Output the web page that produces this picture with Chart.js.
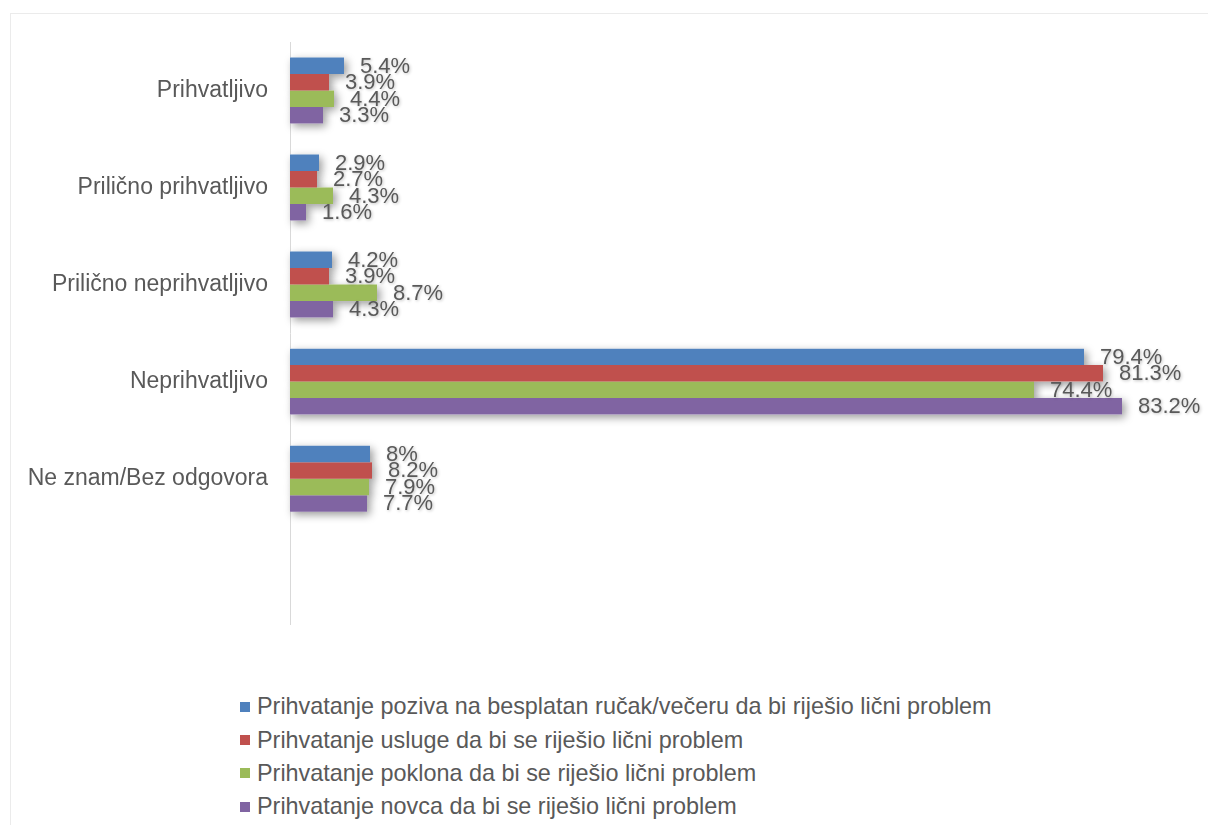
<!DOCTYPE html>
<html>
<head>
<meta charset="utf-8">
<script src="https://cdn.jsdelivr.net/npm/chart.js@4/dist/chart.umd.min.js"></script>
<style>
    body { margin: 0; background: #fff; font-family: 'Liberation Sans', Arial, sans-serif; }
    #frame { position: absolute; left: 10px; top: 13px; width: 1300px; height: 900px; border: 1px solid #ebebeb; }
    #chart { position: absolute; left: 0; top: 0; }
    #legend { position: absolute; left: 240px; top: 690px; }
    .item { display: flex; align-items: center; height: 33.4px; font-size: 23.4px; color: #595959; }
    .box { width: 10px; height: 10px; margin-right: 7px; }
</style>
</head>
<body>
<div id="frame"></div>
<canvas id="chart" width="1208" height="660"></canvas>
<div id="legend"></div>
<script>
// kategorije (zadnja je prazna, kao u originalu)
const categories = ['Prihvatljivo', 'Prilično prihvatljivo', 'Prilično neprihvatljivo', 'Neprihvatljivo', 'Ne znam/Bez odgovora', ''];

const seriesNames = [
    'Prihvatanje poziva na besplatan ručak/večeru da bi riješio lični problem',
    'Prihvatanje usluge da bi se riješio lični problem',
    'Prihvatanje poklona da bi se riješio lični problem',
    'Prihvatanje novca da bi se riješio lični problem'
];
const seriesColors = ['#4f81bd', '#c0504d', '#9bbb59', '#8064a2'];

const rucak  = [5.4, 2.9, 4.2, 79.4, 8, null];
const usluga = [3.9, 2.7, 3.9, 81.3, 8.2, null];
const poklon = [4.4, 4.3, 8.7, 74.4, 7.9, null];
const novac  = [3.3, 1.6, 4.3, 83.2, 7.7, null];
const seriesValues = [rucak, usluga, poklon, novac];

const FONT = "'Liberation Sans', Arial, sans-serif";

// sjenka ispod stubaca (crta se prije samih stubaca)
const barShadow = {
    id: 'barShadow',
    beforeDatasetsDraw(chart) {
        const ctx = chart.ctx;
        ctx.save();
        ctx.shadowColor = 'rgba(0,0,0,0.4)';
        ctx.shadowBlur = 8;
        ctx.shadowOffsetX = 3;
        ctx.shadowOffsetY = 3;
        ctx.fillStyle = '#ffffff';
        chart.data.datasets.forEach((ds, i) => {
            chart.getDatasetMeta(i).data.forEach((bar, j) => {
                if (ds.data[j] == null) return;
                const h = bar.height;
                ctx.fillRect(bar.base, bar.y - h / 2, bar.x - bar.base, h);
            });
        });
        ctx.restore();
    }
};

// procenti desno od stubaca
const valueLabels = {
    id: 'valueLabels',
    afterDatasetsDraw(chart) {
        const ctx = chart.ctx;
        ctx.save();
        ctx.font = `22px ${FONT}`;
        ctx.fillStyle = '#595959';
        ctx.textAlign = 'left';
        ctx.textBaseline = 'middle';
        ctx.shadowColor = 'rgba(0,0,0,0.25)';
        ctx.shadowBlur = 3;
        ctx.shadowOffsetX = 1;
        ctx.shadowOffsetY = 1;
        chart.data.datasets.forEach((ds, i) => {
            chart.getDatasetMeta(i).data.forEach((bar, j) => {
                const v = ds.data[j];
                if (v == null) return;
                ctx.fillText(v + '%', bar.x + 16, bar.y + 1);
            });
        });
        ctx.restore();
    }
};

const chart = new Chart(document.getElementById('chart'), {
    type: 'bar',
    data: {
        labels: categories,
        datasets: seriesValues.map((vals, i) => ({
            label: seriesNames[i],
            data: vals,
            backgroundColor: seriesColors[i],
            borderWidth: 0
        }))
    },
    options: {
        indexAxis: 'y',
        responsive: false,
        animation: false,
        categoryPercentage: 0.68,
        barPercentage: 1,
        layout: { padding: { left: 0, right: 18, top: 42, bottom: 32 } },
        scales: {
            x: { display: false, min: 0, max: 90 },
            y: {
                grid: { display: false, drawTicks: false },
                border: { display: true, color: '#d9d9d9', width: 1 },
                ticks: { color: '#595959', font: { family: FONT, size: 23 }, padding: 22 },
                afterFit(scale) { scale.width = 290; }
            }
        },
        plugins: {
            legend: { display: false },
            tooltip: { enabled: false }
        }
    },
    plugins: [barShadow, valueLabels]
});

// legenda ispod grafika
const legend = document.getElementById('legend');
legend.innerHTML = chart.data.datasets.map(ds => `
    <div class="item"><span class="box" style="background:${ds.backgroundColor}"></span>${ds.label}</div>
`).join('');
</script>
</body>
</html>
